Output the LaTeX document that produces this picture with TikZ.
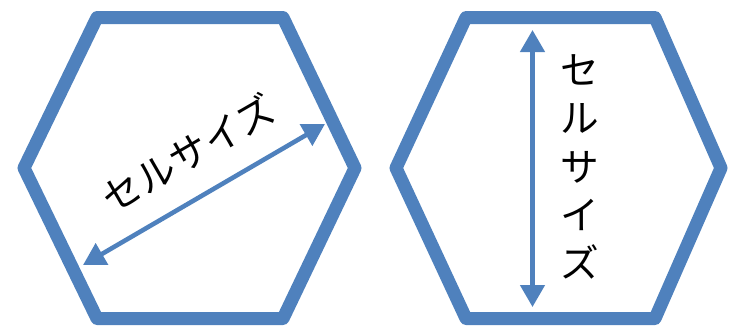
\documentclass[tikz,border=0pt]{standalone}
\usepackage{fontspec}
\newfontfamily\jpfont{Noto Sans CJK JP}
\usetikzlibrary{arrows.meta,calc}
\definecolor{cHex}{RGB}{79,129,189}
\tikzset{
  hexline/.style={draw=cHex,line width=7.4pt,line join=round},
  sizearr/.style={{Triangle[length=0.44cm,width=0.48cm]}-{Triangle[length=0.44cm,width=0.48cm]},
                  draw=cHex,fill=cHex,line width=2.6pt},
  sizelabel/.style={font=\jpfont\fontsize{22}{27.5}\selectfont,text=black,
                    inner sep=0pt,align=center}
}
\begin{document}
\begin{tikzpicture}[x=0.02cm,y=-0.02cm]
  \useasboundingbox (0,0) rectangle (729,326);
  % left cell: diagonal size
  \draw[hexline] (24,168) -- (97,17.5) -- (283,17.5) -- (355,168)
      -- (283,318.5) -- (97,318.5) -- cycle;
  \coordinate (lbot) at (83,265);
  \coordinate (ltop) at (325,124);
  \draw[sizearr] (lbot) -- (ltop);
  \node[sizelabel,rotate=30] (ltext) at (188,153) {セルサイズ};

  % right cell: vertical size
  \draw[hexline] (396,168) -- (466,17.5) -- (655,17.5) -- (721,168)
      -- (655,318.5) -- (466,318.5) -- cycle;
  \coordinate (rtop) at (532.5,30);
  \coordinate (rbot) at (532.5,307);
  \draw[sizearr] (rtop) -- (rbot);
  \node[sizelabel] (rtext) at (580,167) {セ\\ル\\サ\\イ\\ズ};
\end{tikzpicture}
\end{document}
